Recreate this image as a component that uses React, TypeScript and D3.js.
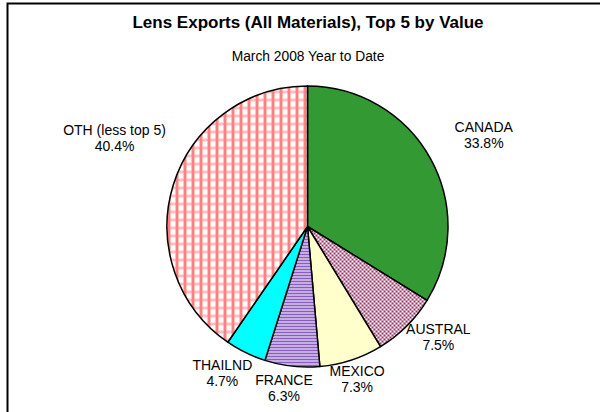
import React from "react";
import * as d3 from "d3";

const categories = ["CANADA", "AUSTRAL", "MEXICO", "FRANCE", "THAILND", "OTH (less top 5)"];
const shares = [33.8, 7.5, 7.3, 6.3, 4.7, 40.4];
const fills = ["#339933", "url(#dots)", "#FFFFCC", "url(#stripes)", "#00FFFF", "url(#plaid)"];
// label nudges (px) relative to a polar anchor at 1.2 * radius
const labelNudge: [number, number][] = [
  [29, -9],
  [12, -9],
  [-3, -8],
  [-5, -6],
  [-11, -5],
  [-32, -38],
];

const W = 600;
const H = 412;
const cx = 307.5;
const cy = 226.5;
const R = 140.5;

export default function App() {
  const pie = d3
    .pie<number>()
    .sort(null)
    .value((d) => d);
  const arcs = pie(shares);
  const arcGen = d3.arc<d3.PieArcDatum<number>>().innerRadius(0).outerRadius(R);
  const labelArc = d3.arc<d3.PieArcDatum<number>>().innerRadius(R * 1.2).outerRadius(R * 1.2);
  const fmt = d3.format(".1f");

  const checkerCells: React.ReactNode[] = [];
  for (let i = 0; i < 8; i += 2) {
    checkerCells.push(<rect key={"a" + i} x={i} y={0} width={1} height={1} fill="#FF8080" />);
    checkerCells.push(<rect key={"b" + i} x={i + 1} y={1} width={1} height={1} fill="#FF8080" />);
    checkerCells.push(<rect key={"c" + i} x={i} y={2} width={1} height={1} fill="#FF8080" />);
  }

  return (
    <svg
      width={W}
      height={H}
      style={{ position: "absolute", left: 0, top: 0, background: "#fff" }}
      fontFamily="'Liberation Sans', Arial, sans-serif"
    >
      <defs>
        <pattern id="dots" width={4} height={4} patternUnits="userSpaceOnUse">
          <rect width={4} height={4} fill="#fff" />
          <rect x={0} y={0} width={2} height={2} fill="#993366" />
          <rect x={2} y={2} width={2} height={2} fill="#993366" />
        </pattern>
        <pattern id="stripes" width={4} height={3} patternUnits="userSpaceOnUse">
          <rect width={4} height={3} fill="#fff" />
          <rect x={0} y={0} width={4} height={2} fill="#8A5CC0" />
        </pattern>
        <pattern id="plaid" width={8} height={8} patternUnits="userSpaceOnUse">
          <rect width={8} height={8} fill="#fff" />
          {checkerCells}
          <rect x={4} y={0} width={3} height={8} fill="#FF8080" />
        </pattern>
      </defs>
      <rect x={7.5} y={3.5} width={W + 10} height={H + 10} fill="none" stroke="#000" strokeWidth={2} />
      <text x={308} y={28} textAnchor="middle" fontSize={17} fontWeight="bold" fill="#000">
        Lens Exports (All Materials), Top 5 by Value
      </text>
      <text x={308} y={61} textAnchor="middle" fontSize={13.8} fill="#000">
        March 2008 Year to Date
      </text>
      <g transform={`translate(${cx},${cy})`}>
        {arcs.map((a, i) => (
          <path key={i} d={arcGen(a) || ""} fill={fills[i]} stroke="#000" strokeWidth={1.5} strokeLinejoin="round" />
        ))}
        {arcs.map((a, i) => {
          const [lx, ly] = labelArc.centroid(a);
          const x = lx + labelNudge[i][0];
          const y = ly + labelNudge[i][1];
          return (
            <text key={"l" + i} x={x} y={y} textAnchor="middle" fontSize={14} fill="#000">
              <tspan x={x} dy={-3}>{categories[i]}</tspan>
              <tspan x={x} dy={16}>{fmt(shares[i])}%</tspan>
            </text>
          );
        })}
      </g>
    </svg>
  );
}
